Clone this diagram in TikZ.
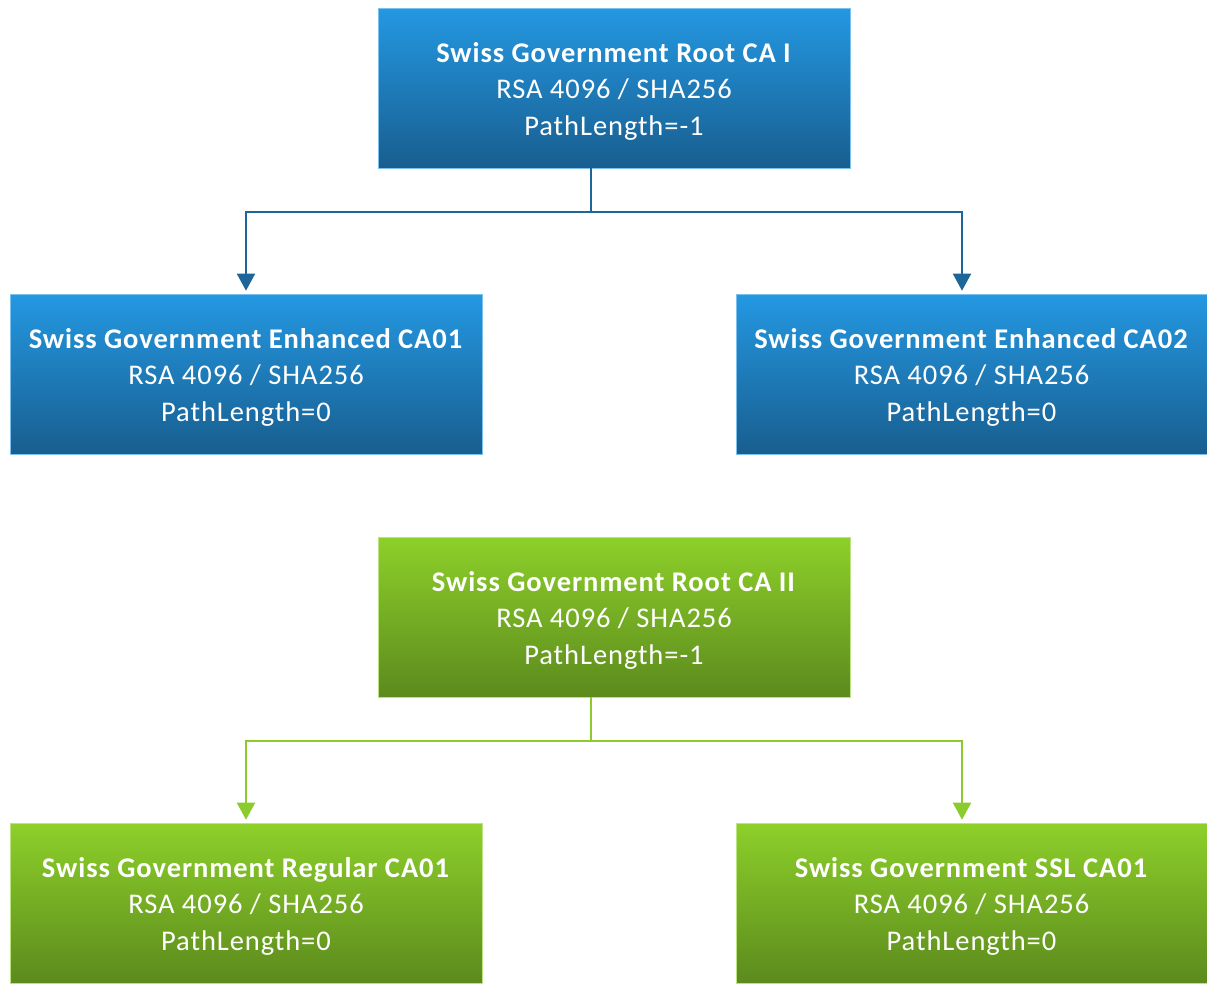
\documentclass[tikz,border=0pt]{standalone}
\usepackage{fontspec}
\setmainfont{Carlito}[LetterSpace=3.3]
\usetikzlibrary{calc,arrows.meta}
\definecolor{bluetop}{HTML}{2498E2}
\definecolor{bluebot}{HTML}{185E8F}
\definecolor{blueline}{HTML}{1D6698}
\definecolor{greentop}{HTML}{8DD02A}
\definecolor{greenbot}{HTML}{5C8A1D}
\definecolor{greenline}{HTML}{8BCB2E}
\tikzset{
  cabox/.style={rectangle, minimum width=472pt, minimum height=160pt, inner sep=0pt},
  catext/.style={inner sep=0pt, text=white, align=center, font=\fontsize{28.5}{36.5}\selectfont},
  bluebox/.style={cabox, top color=bluetop, bottom color=bluebot, draw=bluetop!60!white, line width=0.6pt},
  greenbox/.style={cabox, top color=greentop, bottom color=greenbot, draw=greentop!60!white, line width=0.6pt},
  bluecon/.style={draw=blueline, line width=2pt, -{Triangle[length=17pt,width=18pt]}},
  greencon/.style={draw=greenline, line width=2pt, -{Triangle[length=17pt,width=18pt]}},
}
\begin{document}
\begin{tikzpicture}[x=1pt,y=-1pt]
\useasboundingbox (0,0) rectangle (1207,983);
\node[bluebox] (rootI) at (614,88) {};
\node[catext] (rootIt) at ($(rootI.center)+(0,3)$) {\textbf{Swiss Government Root CA I}\\RSA 4096 / SHA256\\PathLength=-1};
\node[bluebox] (enh1) at (246,374) {};
\node[catext] (enh1t) at ($(enh1.center)+(0,3)$) {\textbf{Swiss Government Enhanced CA01}\\RSA 4096 / SHA256\\PathLength=0};
\node[bluebox, minimum width=471pt] (enh2) at (971.5,374) {};
\node[catext] (enh2t) at ($(enh2.center)+(0,3)$) {\textbf{Swiss Government Enhanced CA02}\\RSA 4096 / SHA256\\PathLength=0};
\node[greenbox] (rootII) at (614,617) {};
\node[catext] (rootIIt) at ($(rootII.center)+(0,3)$) {\textbf{Swiss Government Root CA II}\\RSA 4096 / SHA256\\PathLength=-1};
\node[greenbox] (reg1) at (246,903) {};
\node[catext] (reg1t) at ($(reg1.center)+(0,3)$) {\textbf{Swiss Government Regular CA01}\\RSA 4096 / SHA256\\PathLength=0};
\node[greenbox, minimum width=471pt] (ssl1) at (971.5,903) {};
\node[catext] (ssl1t) at ($(ssl1.center)+(0,3)$) {\textbf{Swiss Government SSL CA01}\\RSA 4096 / SHA256\\PathLength=0};

\coordinate (bj) at ($(rootI.south)+(-23,44)$);
\coordinate (gj) at ($(rootII.south)+(-23,44)$);
\draw[bluecon] ($(rootI.south)+(-23,0)$) -- (bj) -| ($(enh1.north)+(0,-3)$);
\draw[bluecon] (bj) -| ($(enh2.north)+(-9.5,-3)$);
\draw[greencon] ($(rootII.south)+(-23,0)$) -- (gj) -| ($(reg1.north)+(0,-3)$);
\draw[greencon] (gj) -| ($(ssl1.north)+(-9.5,-3)$);
\end{tikzpicture}
\end{document}
